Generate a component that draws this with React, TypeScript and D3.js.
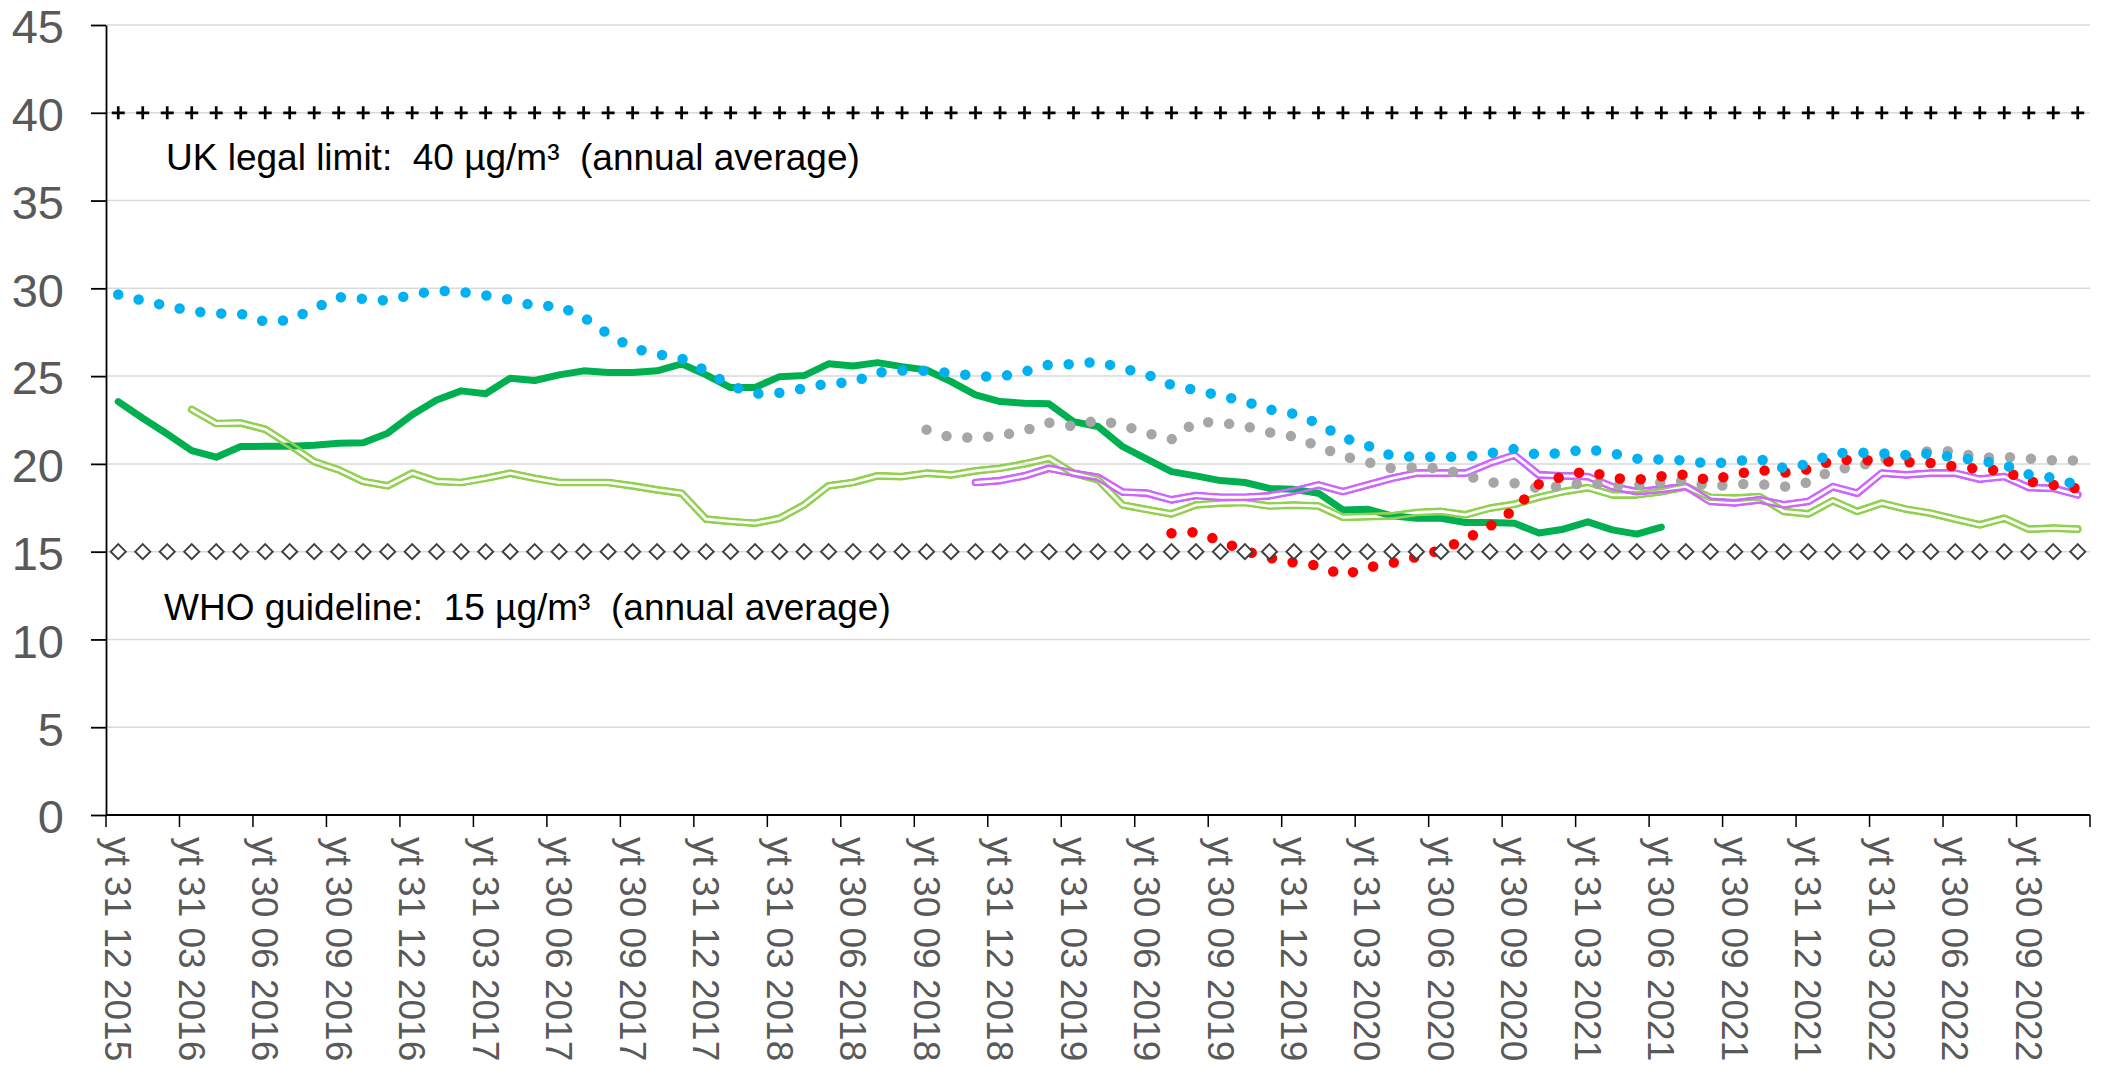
import { useEffect, useRef } from 'react';
import * as d3 from 'd3';

// 81 monthly "year to" categories, every third one labelled
const categoryCount = 81;
const tickLabels = [
  'yt 31 12 2015', 'yt 31 03 2016', 'yt 30 06 2016', 'yt 30 09 2016',
  'yt 31 12 2016', 'yt 31 03 2017', 'yt 30 06 2017', 'yt 30 09 2017',
  'yt 31 12 2017', 'yt 31 03 2018', 'yt 30 06 2018', 'yt 30 09 2018',
  'yt 31 12 2018', 'yt 31 03 2019', 'yt 30 06 2019', 'yt 30 09 2019',
  'yt 31 12 2019', 'yt 31 03 2020', 'yt 30 06 2020', 'yt 30 09 2020',
  'yt 31 03 2021', 'yt 30 06 2021', 'yt 30 09 2021', 'yt 31 12 2021',
  'yt 31 03 2022', 'yt 30 06 2022', 'yt 30 09 2022',
];
const yTicks = [0, 5, 10, 15, 20, 25, 30, 35, 40, 45];

const ukLimit = 40;
const whoGuideline = 15;

// each series: first category index + values
const blueFrom = 0;
const blueValues = [
  29.65, 29.3, 29.0, 28.7, 28.57, 28.55, 28.1, 28.2, 28.85, 29.5,
  29.4, 29.3, 29.65, 29.87, 29.8, 29.6, 29.35, 29.0, 29.0, 28.35,
  27.4, 26.6, 26.25, 26.0, 25.3, 24.45, 24.0, 24.05, 24.3, 24.6,
  24.65, 25.2, 25.32, 25.3, 25.18, 25.0, 24.96, 25.25, 25.65, 25.68,
  25.83, 25.44, 25.1, 24.5, 24.2, 23.88, 23.56, 23.1, 22.85, 22.3,
  21.5, 21.05, 20.45, 20.4, 20.4, 20.4, 20.6, 20.85, 20.5, 20.65,
  20.85, 20.6, 20.3, 20.25, 20.2, 20.0, 20.15, 20.3, 19.75, 20.0,
  20.6, 20.65, 20.6, 20.5, 20.6, 20.35, 20.2, 19.95, 19.4, 19.2, 18.8,
];

const darkGreenFrom = 0;
const darkGreenValues = [
  23.55, 22.6, 21.7, 20.76, 20.38, 20.99, 21.0, 21.0, 21.06, 21.18,
  21.2, 21.75, 22.8, 23.64, 24.16, 24.0, 24.88, 24.75, 25.07, 25.3,
  25.2, 25.2, 25.3, 25.7, 25.07, 24.35, 24.35, 24.97, 25.03, 25.7,
  25.58, 25.77, 25.54, 25.35, 24.69, 23.93, 23.55, 23.45, 23.42, 22.41,
  22.13, 20.99, 20.27, 19.56, 19.32, 19.05, 18.94, 18.6, 18.55, 18.33,
  17.38, 17.42, 17.04, 16.9, 16.9, 16.66, 16.66, 16.62, 16.06, 16.28,
  16.7, 16.24, 16.0, 16.4,
];

const lightGreenFrom = 3;
const lightGreenValues = [
  23.1, 22.3, 22.33, 21.97, 21.08, 20.13, 19.66, 19.0, 18.75, 19.47,
  19.0, 18.94, 19.18, 19.47, 19.18, 18.94, 18.94, 18.94, 18.75, 18.52,
  18.33, 16.85, 16.72, 16.62, 16.9, 17.66, 18.75, 18.94, 19.32, 19.28,
  19.47, 19.37, 19.6, 19.75, 20.0, 20.32, 19.47, 19.1, 17.66, 17.4,
  17.15, 17.66, 17.76, 17.8, 17.6, 17.65, 17.6, 16.96, 17.0, 17.04,
  17.23, 17.29, 17.1, 17.48, 17.7, 18.1, 18.42, 18.65, 18.24, 18.24,
  18.42, 18.7, 18.1, 18.05, 18.14, 17.29, 17.15, 17.9, 17.29, 17.76,
  17.42, 17.19, 16.85, 16.53, 16.9, 16.28, 16.34, 16.28,
];

const purpleFrom = 35;
const purpleValues = [
  18.94, 19.05, 19.32, 19.75, 19.47, 19.24, 18.4, 18.33, 17.95, 18.2,
  18.1, 18.1, 18.18, 18.45, 18.8, 18.42, 18.8, 19.18, 19.47, 19.47,
  19.47, 20.04, 20.5, 19.37, 19.32, 19.28, 18.7, 18.42, 18.55, 18.72,
  17.86, 17.78, 17.95, 17.67, 17.86, 18.7, 18.33, 19.47, 19.37, 19.47,
  19.47, 19.13, 19.28, 18.65, 18.61, 18.24,
];

const greyFrom = 33;
const greyValues = [
  21.95, 21.5, 21.5, 21.6, 21.9, 22.35, 22.15, 22.5, 22.2, 21.75,
  21.4, 22.4, 22.35, 22.15, 21.8, 21.55, 21.0, 20.45, 20.1, 19.75,
  19.8, 19.75, 19.35, 18.95, 18.9, 18.6, 18.75, 18.95, 18.75, 18.8,
  18.95, 19.05, 18.7, 18.85, 18.85, 18.7, 18.95, 19.65, 19.85, 20.25,
  20.45, 20.75, 20.7, 20.35, 20.4, 20.3, 20.2, 20.2,
];

const redFrom = 43;
const redValues = [
  16.05, 16.12, 15.6, 15.05, 14.65, 14.38, 14.2, 13.65, 14.1, 14.35,
  14.7, 15.1, 15.7, 16.45, 17.4, 18.85, 19.3, 19.6, 19.2, 19.1,
  19.3, 19.4, 19.05, 19.4, 19.65, 19.5, 19.7, 20.2, 20.25, 20.15,
  20.1, 20.05, 19.85, 19.7, 19.6, 19.0, 18.8, 18.6,
];

const FONT = '"Liberation Sans", Arial, sans-serif';

function AirQualityChart({ width, height }: { width: number; height: number }) {
  const svgRef = useRef<SVGSVGElement>(null);

  useEffect(() => {
    if (svgRef.current === null) return;
    const left = 106, right = 2090, top = 25, bottom = 815;

    const svg = d3.select(svgRef.current).attr('width', width).attr('height', height);
    svg.selectAll('*').remove();

    const x = d3.scaleBand<number>().domain(d3.range(categoryCount)).range([left, right]);
    const y = d3.scaleLinear().domain([0, 45]).range([bottom, top]);
    const bw = x.bandwidth();
    const cx = (i: number) => (x(i) || 0) + bw / 2;

    const toPoints = (from: number, values: number[]) =>
      values.map((v, k) => ({ i: from + k, v }));
    const line = d3
      .line<{ i: number; v: number }>()
      .x((d) => cx(d.i))
      .y((d) => y(d.v));

    // gridlines
    svg.append('g')
      .selectAll('line')
      .data(yTicks.filter((t) => t > 0))
      .enter()
      .append('line')
      .attr('x1', left)
      .attr('x2', right)
      .attr('y1', (d) => y(d))
      .attr('y2', (d) => y(d))
      .attr('stroke', '#d9d9d9')
      .attr('stroke-width', 1.5);

    // y axis
    const yAxis = svg.append('g')
      .attr('transform', `translate(${left},0)`)
      .call(d3.axisLeft(y).tickValues(yTicks).tickSize(15).tickSizeOuter(0).tickPadding(27));
    yAxis.select('.domain').attr('stroke', '#000').attr('stroke-width', 1.8);
    yAxis.selectAll('.tick line').attr('stroke', '#000').attr('stroke-width', 1.8);
    yAxis.selectAll('.tick text')
      .attr('dy', '0.38em')
      .attr('font-family', FONT)
      .attr('font-size', 47)
      .attr('fill', '#595959');

    // x axis
    const xAxis = svg.append('g');
    xAxis.append('line')
      .attr('x1', left).attr('x2', right)
      .attr('y1', bottom).attr('y2', bottom)
      .attr('stroke', '#000').attr('stroke-width', 1.8);
    xAxis.selectAll('line.tick')
      .data(d3.range(0, categoryCount + 1, 3))
      .enter()
      .append('line')
      .attr('class', 'tick')
      .attr('x1', (d) => left + d * bw)
      .attr('x2', (d) => left + d * bw)
      .attr('y1', bottom)
      .attr('y2', bottom + 12)
      .attr('stroke', '#000')
      .attr('stroke-width', 1.5);
    xAxis.selectAll('text')
      .data(tickLabels)
      .enter()
      .append('text')
      .attr('transform', (_, k) => `translate(${cx(k * 3)},${bottom + 22}) rotate(90)`)
      .attr('dy', '0.35em')
      .attr('font-family', FONT)
      .attr('font-size', 37)
      .attr('fill', '#595959')
      .text((d) => d);

    const defs = svg.append('defs');

    const drawSolid = (from: number, values: number[], color: string, w: number) => {
      svg.append('path')
        .datum(toPoints(from, values))
        .attr('d', line)
        .attr('fill', 'none')
        .attr('stroke', color)
        .attr('stroke-width', w)
        .attr('stroke-linejoin', 'round')
        .attr('stroke-linecap', 'round');
    };

    // compound "double" line: outer stroke with a transparent middle
    const drawDouble = (id: string, from: number, values: number[], color: string) => {
      const pts = toPoints(from, values);
      const outer = 8.2, gap = 2.8;
      const mask = defs.append('mask')
        .attr('id', id)
        .attr('maskUnits', 'userSpaceOnUse')
        .attr('x', 0).attr('y', 0).attr('width', width).attr('height', height);
      mask.append('path').datum(pts).attr('d', line)
        .attr('fill', 'none').attr('stroke', '#fff').attr('stroke-width', outer)
        .attr('stroke-linejoin', 'round').attr('stroke-linecap', 'round');
      mask.append('path').datum(pts).attr('d', line)
        .attr('fill', 'none').attr('stroke', '#000').attr('stroke-width', gap)
        .attr('stroke-linejoin', 'round').attr('stroke-linecap', 'round');
      svg.append('path')
        .datum(pts)
        .attr('d', line)
        .attr('mask', `url(#${id})`)
        .attr('fill', 'none')
        .attr('stroke', color)
        .attr('stroke-width', outer)
        .attr('stroke-linejoin', 'round')
        .attr('stroke-linecap', 'round');
    };

    const drawDotted = (from: number, values: number[], color: string) => {
      svg.append('path')
        .datum(toPoints(from, values))
        .attr('d', line)
        .attr('fill', 'none')
        .attr('stroke', color)
        .attr('stroke-width', 10.5)
        .attr('stroke-linecap', 'round')
        .attr('stroke-linejoin', 'round')
        .attr('stroke-dasharray', '0 21');
    };

    drawSolid(darkGreenFrom, darkGreenValues, '#00b050', 7);
    drawDouble('lightGreenMask', lightGreenFrom, lightGreenValues, '#92d050');
    drawDouble('purpleMask', purpleFrom, purpleValues, '#cc66ff');
    drawDotted(greyFrom, greyValues, '#a6a6a6');
    drawDotted(redFrom, redValues, '#ff0000');
    drawDotted(blueFrom, blueValues, '#00b0f0');

    // UK legal limit markers
    svg.append('g')
      .selectAll('path')
      .data(d3.range(categoryCount))
      .enter()
      .append('path')
      .attr('transform', (d) => `translate(${cx(d)},${y(ukLimit)})`)
      .attr('d', 'M-6.5,0H6.5M0,-6.5V6.5')
      .attr('stroke', '#000')
      .attr('stroke-width', 2.7);

    // WHO guideline markers
    svg.append('g')
      .selectAll('path')
      .data(d3.range(categoryCount))
      .enter()
      .append('path')
      .attr('transform', (d) => `translate(${cx(d)},${y(whoGuideline)})`)
      .attr('d', 'M0,-7.5L7.5,0L0,7.5L-7.5,0Z')
      .attr('fill', '#fff')
      .attr('stroke', '#404040')
      .attr('stroke-width', 2);

    // annotations
    const notes = [
      { text: 'UK legal limit:  40 µg/m³  (annual average)', x: 166, y: 170 },
      { text: 'WHO guideline:  15 µg/m³  (annual average)', x: 164, y: 620 },
    ];
    svg.append('g')
      .selectAll('text')
      .data(notes)
      .enter()
      .append('text')
      .attr('x', (d) => d.x)
      .attr('y', (d) => d.y)
      .attr('xml:space', 'preserve')
      .style('white-space', 'pre')
      .attr('font-family', FONT)
      .attr('font-size', 37)
      .attr('fill', '#000')
      .text((d) => d.text);
  }, [svgRef, width, height]);

  return (
    <svg
      ref={svgRef}
      style={{ position: 'absolute', left: 0, top: 0, background: '#fff' }}
    />
  );
}

export default function App() {
  return <AirQualityChart width={2108} height={1069} />;
}
